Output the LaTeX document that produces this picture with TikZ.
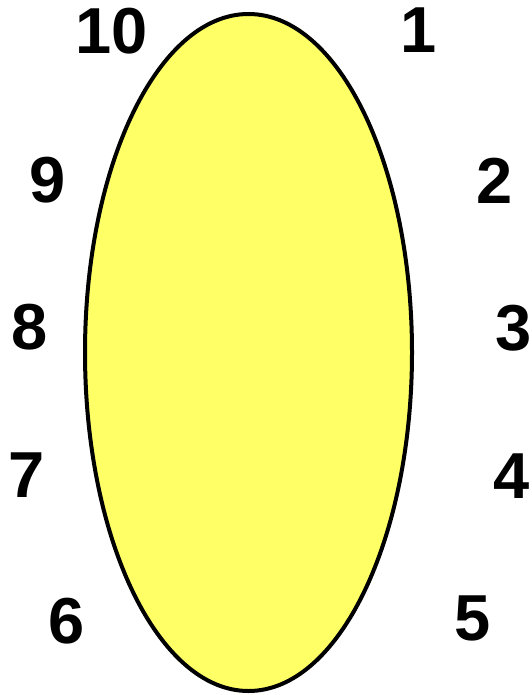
\documentclass[tikz,border=0pt]{standalone}
\usepackage{fontspec}
\setmainfont{Liberation Sans}
\usetikzlibrary{shapes.geometric}
\definecolor{eyellow}{RGB}{255,255,102}
\begin{document}
\begin{tikzpicture}[x=1pt,y=-1pt,
  num/.style={inner sep=0pt,font=\fontsize{65}{65}\selectfont\bfseries}]
\useasboundingbox (0,0) rectangle (531,695);
\node[draw=black,line width=4pt,fill=eyellow,ellipse,minimum width=327pt,minimum height=677pt,inner sep=0pt] (oval) at (248.5,352.5) {};
\node[num] (n10) at (112,31) {10};
\node[num] (n1) at (419,30) {1};
\node[num] (n9) at (48,180) {9};
\node[num] (n2) at (495,181) {2};
\node[num] (n8) at (30,327) {8};
\node[num] (n3) at (514,328) {3};
\node[num] (n7) at (27,475) {7};
\node[num] (n4) at (512,476) {4};
\node[num] (n6) at (67,621) {6};
\node[num] (n5) at (473,618) {5};
\end{tikzpicture}
\end{document}
